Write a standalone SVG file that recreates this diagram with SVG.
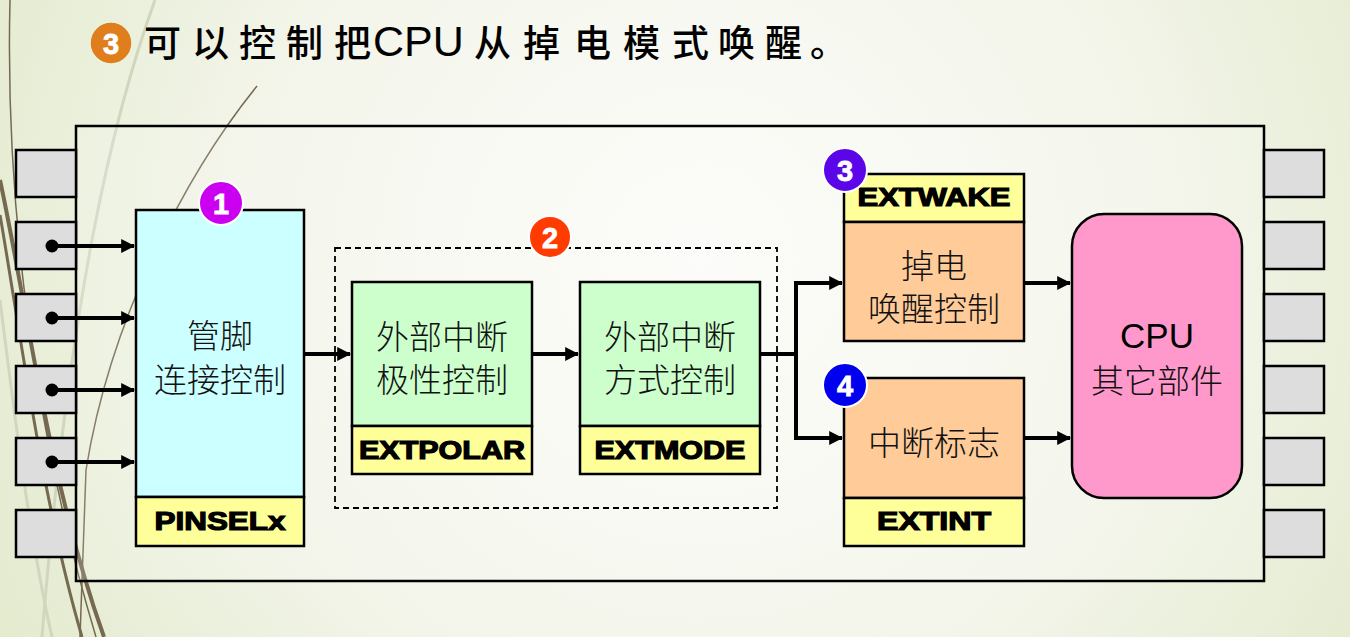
<svg xmlns="http://www.w3.org/2000/svg" width="1350" height="637" viewBox="0 0 1350 637">
  <defs>
    <radialGradient id="bg" cx="700" cy="260" r="820" gradientUnits="userSpaceOnUse">
      <stop offset="0" stop-color="#fcfcf9"/>
      <stop offset="0.55" stop-color="#f3f5ea"/>
      <stop offset="1" stop-color="#e2eacc"/>
    </radialGradient>
    <marker id="arrow" viewBox="0 0 12 12" refX="11" refY="6" markerWidth="14" markerHeight="14" markerUnits="userSpaceOnUse" orient="auto">
      <path d="M0,0 L12,6 L0,12 Z" fill="#000"/>
    </marker>
    <style>
      .pin { fill: #dddddd; stroke: #000; stroke-width: 2.5; }
      .box { stroke: #000; stroke-width: 2.5; }
      .cyan { fill: #ccffff; }
      .green { fill: #ccffcc; }
      .orange { fill: #ffcc99; }
      .yellow { fill: #ffff99; }
      .wire { fill: none; stroke: #000; stroke-width: 4; }
      .cn { font-family: "Noto Sans CJK SC", "Noto Sans", sans-serif; font-size: 33px; font-weight: 300; fill: #111; text-anchor: middle; dominant-baseline: central; }
      .reg { font-family: "Liberation Sans", Arial, sans-serif; font-size: 26px; font-weight: bold; fill: #000; stroke: #000; stroke-width: 1.2; text-anchor: middle; }
      .badge-n { font-family: "Liberation Sans", Arial, sans-serif; font-size: 29px; font-weight: bold; fill: #fff; stroke: #fff; stroke-width: 0.8; text-anchor: middle; dominant-baseline: central; }
      .deco-dark { fill: none; stroke: #75694f; }
      .deco-light { fill: none; stroke: #d2d6bf; }
      .title { font-family: "Noto Sans CJK SC", "Noto Sans", sans-serif; font-size: 37px; font-weight: 500; fill: #000; dominant-baseline: central; }
    </style>
  </defs>

  <!-- slide background -->
  <rect x="0" y="0" width="1350" height="637" fill="url(#bg)"/>

  <!-- decorative strokes of the slide theme -->
  <g id="decoration">
    <path class="deco-light" stroke-width="3" d="M155,0 C115,110 70,290 42,637"/>
    <path class="deco-light" stroke-width="3" d="M0,300 C15,420 30,540 52,637"/>
    <path class="deco-dark" stroke-width="1.5" d="M10,0 C6,160 22,390 96,637"/>
    <path class="deco-dark" stroke-width="4" d="M0,180 C28,310 48,480 104,637"/>
    <path class="deco-dark" stroke-width="3" d="M0,215 C20,330 42,500 82,637"/>
    <path class="deco-dark" stroke-width="1.5" d="M257,86 C185,175 110,320 86,470 L80,637"/>
  </g>

  <!-- title -->
  <g id="title">
    <circle cx="111" cy="43" r="21" fill="#e07e1e" stroke="#e8f3dc" stroke-width="1.5"/>
    <text class="badge-n" x="111" y="44" font-size="27">3</text>
    <text class="title" y="41"><tspan x="144 192 239 286 334">可以控制把</tspan><tspan x="373" font-family="'Liberation Sans', Arial, sans-serif" font-weight="normal" font-size="43">CPU</tspan><tspan x="474 523 574 623 672 718 765 810">从掉电模式唤醒。</tspan></text>
  </g>

  <!-- chip outline -->
  <g id="chip">
    <rect x="76" y="126" width="1188" height="455" fill="#ffffff" fill-opacity="0.15" stroke="#000" stroke-width="2.5"/>
  </g>

  <!-- pins on both sides -->
  <g id="pins-left">
    <rect class="pin" x="16" y="150" width="60" height="47"/>
    <rect class="pin" x="16" y="222" width="60" height="47"/>
    <rect class="pin" x="16" y="294" width="60" height="47"/>
    <rect class="pin" x="16" y="366" width="60" height="47"/>
    <rect class="pin" x="16" y="438" width="60" height="47"/>
    <rect class="pin" x="16" y="510" width="60" height="47"/>
  </g>
  <g id="pins-right">
    <rect class="pin" x="1264" y="150" width="60" height="47"/>
    <rect class="pin" x="1264" y="222" width="60" height="47"/>
    <rect class="pin" x="1264" y="294" width="60" height="47"/>
    <rect class="pin" x="1264" y="366" width="60" height="47"/>
    <rect class="pin" x="1264" y="438" width="60" height="47"/>
    <rect class="pin" x="1264" y="510" width="60" height="47"/>
  </g>

  <!-- dashed group of the two external interrupt blocks -->
  <g id="ext-group">
    <rect x="335" y="248" width="442" height="260" fill="none" stroke="#000" stroke-width="1.8" stroke-dasharray="6,4"/>
  </g>

  <!-- connectors -->
  <g id="connectors">
    <g fill="#000">
      <circle cx="52" cy="246" r="6.5"/>
      <circle cx="52" cy="318" r="6.5"/>
      <circle cx="52" cy="390" r="6.5"/>
      <circle cx="52" cy="462" r="6.5"/>
    </g>
    <path class="wire" d="M52,246 H134" marker-end="url(#arrow)"/>
    <path class="wire" d="M52,318 H134" marker-end="url(#arrow)"/>
    <path class="wire" d="M52,390 H134" marker-end="url(#arrow)"/>
    <path class="wire" d="M52,462 H134" marker-end="url(#arrow)"/>
    <path class="wire" d="M304,354 H350" marker-end="url(#arrow)"/>
    <path class="wire" d="M532,354 H578" marker-end="url(#arrow)"/>
    <path class="wire" d="M760,354 H796"/>
    <path class="wire" d="M796,283 V438 H842" marker-end="url(#arrow)"/>
    <path class="wire" d="M794,283 H842" marker-end="url(#arrow)"/>
    <path class="wire" d="M1024,283 H1070" marker-end="url(#arrow)"/>
    <path class="wire" d="M1024,438 H1070" marker-end="url(#arrow)"/>
  </g>

  <!-- pin connect block -->
  <g id="pinsel">
    <rect class="box cyan" x="136" y="210" width="168" height="287"/>
    <rect class="box yellow" x="136" y="497" width="168" height="49"/>
    <text class="cn"><tspan x="220" y="334">管脚</tspan><tspan x="220" y="378">连接控制</tspan></text>
    <text class="reg" x="220" y="530" textLength="131" lengthAdjust="spacingAndGlyphs">PINSELx</text>
    <circle cx="221" cy="203" r="22" fill="#cc00f0" stroke="#fff" stroke-width="2"/>
    <text class="badge-n" x="221" y="204">1</text>
  </g>

  <!-- external interrupt polarity -->
  <g id="extpolar">
    <rect class="box green" x="352" y="282" width="180" height="144"/>
    <rect class="box yellow" x="352" y="426" width="180" height="48"/>
    <text class="cn"><tspan x="442" y="335">外部中断</tspan><tspan x="442" y="378">极性控制</tspan></text>
    <text class="reg" x="442" y="459" textLength="166" lengthAdjust="spacingAndGlyphs">EXTPOLAR</text>
  </g>

  <!-- external interrupt mode -->
  <g id="extmode">
    <rect class="box green" x="580" y="282" width="180" height="144"/>
    <rect class="box yellow" x="580" y="426" width="180" height="48"/>
    <text class="cn"><tspan x="670" y="335">外部中断</tspan><tspan x="670" y="378">方式控制</tspan></text>
    <text class="reg" x="670" y="459" textLength="151" lengthAdjust="spacingAndGlyphs">EXTMODE</text>
  </g>

  <!-- badge of the dashed group -->
  <g id="badge-2">
    <circle cx="550" cy="237" r="21" fill="#ff3b00" stroke="#fff" stroke-width="2"/>
    <text class="badge-n" x="550" y="238">2</text>
  </g>

  <!-- power-down wakeup -->
  <g id="extwake">
    <rect class="box yellow" x="844" y="174" width="180" height="48"/>
    <rect class="box orange" x="844" y="222" width="180" height="119"/>
    <text class="reg" x="934" y="206" textLength="153" lengthAdjust="spacingAndGlyphs">EXTWAKE</text>
    <text class="cn"><tspan x="934" y="264">掉电</tspan><tspan x="934" y="307">唤醒控制</tspan></text>
    <circle cx="845" cy="170" r="22" fill="#5a06e8" stroke="#fff" stroke-width="2"/>
    <text class="badge-n" x="845" y="171">3</text>
  </g>

  <!-- interrupt flags -->
  <g id="extint">
    <rect class="box orange" x="844" y="378" width="180" height="120"/>
    <rect class="box yellow" x="844" y="498" width="180" height="48"/>
    <text class="cn" x="934" y="441">中断标志</text>
    <text class="reg" x="934" y="530" textLength="114" lengthAdjust="spacingAndGlyphs">EXTINT</text>
    <circle cx="845" cy="385" r="22" fill="#0000ee" stroke="#fff" stroke-width="2"/>
    <text class="badge-n" x="845" y="386">4</text>
  </g>

  <!-- rest of the CPU -->
  <g id="cpu">
    <rect x="1072" y="214" width="170" height="284" rx="32" ry="32" fill="#ff99cc" stroke="#000" stroke-width="2.5"/>
    <text x="1157" y="335" font-family="'Liberation Sans', Arial, sans-serif" font-size="35" fill="#000" text-anchor="middle" dominant-baseline="central">CPU</text>
    <text class="cn" x="1157" y="379">其它部件</text>
  </g>
</svg>
